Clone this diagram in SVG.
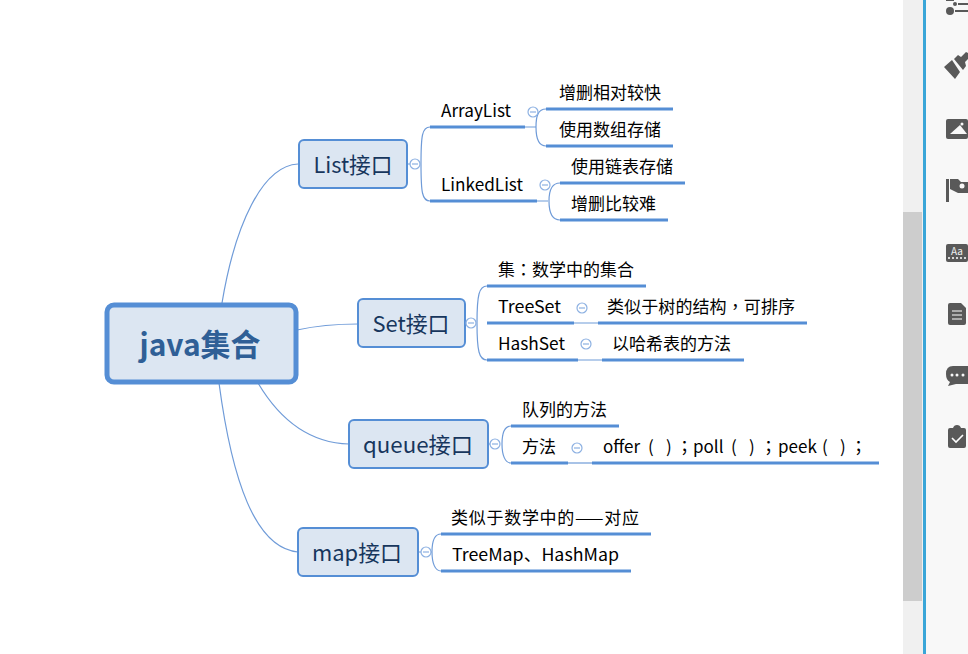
<svg xmlns="http://www.w3.org/2000/svg" width="968" height="654" viewBox="0 0 968 654">
<style>
text{font-family:"Noto Sans CJK SC","Noto Sans",sans-serif}
.t{font-size:17px;fill:#000}
.tc{font-family:"Noto Sans CJK TC","Noto Sans",sans-serif}
.m{font-size:22px;fill:#17365d;text-anchor:middle}
.root{font-size:31px;font-weight:700;fill:#2f5f96;text-anchor:middle}
.c{fill:none;stroke:#6f9bd8;stroke-width:1.2}
.u{fill:none;stroke:#558ed5;stroke-width:3}
.n{fill:#dce6f2;stroke:#558ed5;stroke-width:2}
.col circle{fill:#fff;stroke:#8db1e2;stroke-width:1.2}
.col path{stroke:#8db1e2;stroke-width:1.2}
.i{fill:#595959}
.w{fill:#f8f8f8}
</style>
<rect width="968" height="654" fill="#fff"/>
<g id="connectors">
<path class="c" d="M222 303C235 225 262 166 298 164"/>
<path class="c" d="M297 330C315 326 335 324 358 324"/>
<path class="c" d="M258 383C280 420 310 443 349 444"/>
<path class="c" d="M219 383C232 480 255 548 298 552"/>
<path class="c" d="M408 164H420M430 127C422 127 421 136 421 164C421 192 422 201 430 201"/>
<path class="c" d="M525 127H536M546 109C538 109 536 116 536 127C536 138 538 146 546 146"/>
<path class="c" d="M537 201H548M560 183C552 183 549 190 549 201C549 212 552 220 560 220"/>
<path class="c" d="M465 323H476M487 286C479 286 477 295 477 323C477 351 479 360 487 360"/>
<path class="c" d="M574 323H598M578 360H602"/>
<path class="c" d="M489 444H500M511 426C505 426 502 433 502 444C502 455 505 463 511 463"/>
<path class="c" d="M568 463H592"/>
<path class="c" d="M419 552H432M441 534C435 534 432 541 432 552C432 563 435 571 441 571"/>
<path class="u" d="M430 127H525M430 201H537M546 109H673M546 146H673M560 183H685M560 220H668M487 286H646M487 323H574M598 323H807M487 360H578M602 360H744M511 426H619M511 463H568M592 463H879M441 534H651M441 571H631"/>
</g>
<g id="root"><rect class="n" x="107" y="305" width="189" height="77" rx="7" style="stroke-width:5"/><text class="root" x="200" y="356" textLength="121" lengthAdjust="spacingAndGlyphs">java集合</text></g>
<g id="list"><rect class="n" x="299" y="140" width="108" height="48" rx="5"/><text class="m" x="353" y="173" textLength="79" lengthAdjust="spacingAndGlyphs">List接口</text></g>
<g id="set"><rect class="n" x="358" y="299" width="107" height="48" rx="5"/><text class="m" x="411" y="332" textLength="77" lengthAdjust="spacingAndGlyphs">Set接口</text></g>
<g id="queue"><rect class="n" x="349" y="420" width="139" height="48" rx="5"/><text class="m" x="418" y="453" textLength="110" lengthAdjust="spacingAndGlyphs">queue接口</text></g>
<g id="map"><rect class="n" x="298" y="528" width="120" height="48" rx="5"/><text class="m" x="357" y="561" textLength="90" lengthAdjust="spacingAndGlyphs">map接口</text></g>
<g id="collapse" class="col">
<circle cx="415" cy="164" r="5"/><path d="M412 164h6"/>
<circle cx="533" cy="112" r="5"/><path d="M530 112h6"/>
<circle cx="545" cy="185" r="5"/><path d="M542 185h6"/>
<circle cx="471" cy="323" r="5"/><path d="M468 323h6"/>
<circle cx="582" cy="308" r="5"/><path d="M579 308h6"/>
<circle cx="586" cy="344" r="5"/><path d="M583 344h6"/>
<circle cx="495" cy="444" r="5"/><path d="M492 444h6"/>
<circle cx="577" cy="448" r="5"/><path d="M574 448h6"/>
<circle cx="426" cy="552" r="5"/><path d="M423 552h6"/>
</g>
<g id="labels">
<g id="n-arraylist"><text class="t" x="441" y="117" textLength="70" lengthAdjust="spacingAndGlyphs">ArrayList</text></g>
<g id="n-linkedlist"><text class="t" x="441" y="191" textLength="82" lengthAdjust="spacingAndGlyphs">LinkedList</text></g>
<g id="n-a1"><text class="t" x="559" y="99" textLength="102">增删相对较快</text></g>
<g id="n-a2"><text class="t" x="559" y="136" textLength="102">使用数组存储</text></g>
<g id="n-l1"><text class="t" x="571" y="173" textLength="102">使用链表存储</text></g>
<g id="n-l2"><text class="t" x="571" y="210" textLength="85">增删比较难</text></g>
<g id="n-s1"><text class="t tc" x="498" y="276" textLength="136">集：数学中的集合</text></g>
<g id="n-treeset"><text class="t" x="498" y="313" textLength="63" lengthAdjust="spacingAndGlyphs">TreeSet</text></g>
<g id="n-s2"><text class="t tc" x="607" y="313" textLength="188">类似于树的结构，可排序</text></g>
<g id="n-hashset"><text class="t" x="498" y="350" textLength="67" lengthAdjust="spacingAndGlyphs">HashSet</text></g>
<g id="n-s3"><text class="t" x="612" y="350" textLength="119">以哈希表的方法</text></g>
<g id="n-q1"><text class="t" x="522" y="416" textLength="85">队列的方法</text></g>
<g id="n-q2"><text class="t" x="522" y="453" textLength="34">方法</text></g>
<g id="n-q3"><text class="t tc" y="453"><tspan x="603">offer</tspan><tspan x="648">( </tspan><tspan x="666">)</tspan><tspan x="676">；</tspan><tspan x="693">poll</tspan><tspan x="731">( </tspan><tspan x="749">)</tspan><tspan x="760">；</tspan><tspan x="778">peek</tspan><tspan x="822">( </tspan><tspan x="840">)</tspan><tspan x="850">；</tspan></text></g>
<g id="n-m1"><text class="t" x="451" y="524" textLength="188">类似于数学中的——对应</text></g>
<g id="n-m2"><text class="t" x="452" y="561" textLength="167" lengthAdjust="spacingAndGlyphs">TreeMap、HashMap</text></g>
</g>
<rect x="903" y="0" width="20" height="654" fill="#f0f0f0"/>
<rect x="903" y="212" width="19" height="389" fill="#cdcdcd"/>
<rect x="923" y="0" width="3" height="654" fill="#3aa6d8"/>
<rect x="926" y="0" width="42" height="654" fill="#f8f8f8"/>
<circle class="i" cx="950" cy="11" r="4"/><rect class="i" x="955" y="10" width="13" height="2"/><circle class="i" cx="955" cy="4" r="2"/><rect class="i" x="958" y="3" width="10" height="2"/><rect class="i" x="946" y="0" width="8" height="1"/>
<path class="i" d="M944 67L952 60L960 72L955 79ZM954 59L958 55L961 57L966 52L968 53V59L965 62L966 66L963 70Z"/>
<rect class="i" x="946" y="119" width="22" height="20" rx="2"/><path class="w" d="M950 134L960 125L967 134Z"/><circle class="w" cx="962" cy="124" r="1.5"/>
<rect class="i" x="946" y="179" width="3" height="23"/><path class="i" d="M950 179H958L961 182H968V193H958L950 189Z"/><circle class="w" cx="962" cy="186" r="2.5"/>
<rect class="i" x="946" y="244" width="22" height="18" rx="2"/><text x="957" y="255" font-size="10" fill="#f0f0f0" text-anchor="middle">Aa</text><path d="M948 258H968" stroke="#fff" stroke-width="1.5" stroke-dasharray="2 2"/>
<path class="i" d="M950 303H961L966 308V323Q966 325 964 325H950Q948 325 948 323V305Q948 303 950 303Z"/><path d="M952 311H962M952 315H962M952 319H962" stroke="#fff"/>
<path class="i" d="M953 366H968V384H956L948 386L950 382Q946 380 946 374Q946 366 953 366Z"/><circle class="w" cx="952" cy="375" r="1.5"/><circle class="w" cx="957" cy="375" r="1.5"/><circle class="w" cx="963" cy="375" r="1.5"/>
<path class="i" d="M950 428H953Q954 425 957 425Q960 425 961 428H964Q966 428 966 430V446Q966 448 964 448H950Q948 448 948 446V430Q948 428 950 428Z"/><path d="M952 438L956 442L963 435" fill="none" stroke="#fff" stroke-width="1.6"/>
</svg>
